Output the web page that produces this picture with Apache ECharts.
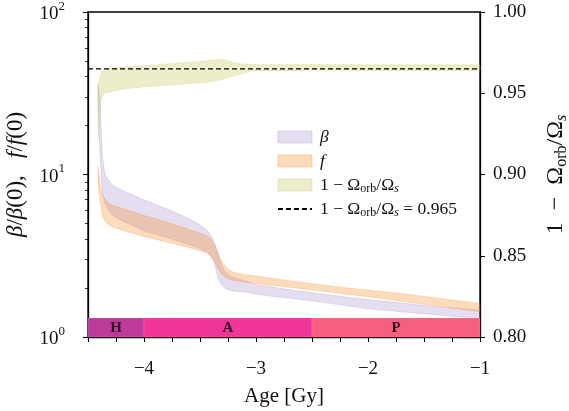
<!DOCTYPE html>
<html>
<head>
<meta charset="utf-8">
<script src="https://cdn.jsdelivr.net/npm/echarts@6/dist/echarts.min.js"></script>
<style>
  html, body { margin: 0; padding: 0; background: #fff; }
  #chart { width: 569px; height: 411px; }
</style>
</head>
<body>
<div id="chart"></div>
<script>
// age grid shared by the beta and f bands [Gy]
var bandAge = [-4.41, -4.40, -4.39, -4.38, -4.37, -4.35, -4.32, -4.28, -4.2, -4.1, -4.0, -3.9, -3.8, -3.7, -3.6, -3.5,
  -3.44, -3.40, -3.37, -3.34, -3.31, -3.28, -3.24, -3.2, -3.1, -3.0, -2.8, -2.5, -2.2, -2.0, -1.7, -1.4, -1.0];
// beta / beta(0)
var betaHigh = [36, 32, 26, 17, 12.5, 10.2, 9.3, 8.6, 8.0, 7.5, 7.0, 6.55, 6.15, 5.75, 5.35, 4.9,
  4.55, 4.2, 3.8, 3.25, 2.8, 2.55, 2.4, 2.33, 2.22, 2.1, 2.0, 1.87, 1.76, 1.70, 1.62, 1.54, 1.46];
var betaLow = [30, 17, 12, 9.5, 7.6, 6.7, 6.1, 5.6, 5.2, 4.85, 4.5, 4.3, 4.1, 3.9, 3.7, 3.5,
  3.35, 3.15, 2.85, 2.3, 2.1, 2.0, 1.95, 1.92, 1.89, 1.83, 1.76, 1.67, 1.56, 1.49, 1.43, 1.37, 1.30];
// f / f(0)
var fHigh = [11.2, 10.0, 8.6, 8.0, 7.5, 7.1, 6.7, 6.45, 6.2, 5.9, 5.6, 5.35, 5.1, 4.85, 4.6, 4.35,
  4.2, 4.0, 3.7, 3.3, 2.95, 2.75, 2.6, 2.5, 2.42, 2.37, 2.27, 2.13, 2.01, 1.94, 1.85, 1.74, 1.61];
var fLow = [8.5, 7.6, 6.7, 6.1, 5.6, 5.2, 4.95, 4.75, 4.55, 4.35, 4.15, 4.0, 3.85, 3.7, 3.55, 3.4,
  3.3, 3.1, 2.9, 2.65, 2.45, 2.35, 2.27, 2.23, 2.19, 2.13, 2.06, 1.95, 1.84, 1.77, 1.66, 1.56, 1.43];

// 1 - Omega_orb / Omega_s (right axis)
var omegaAge = [-4.41, -4.40, -4.39, -4.38, -4.36, -4.33, -4.3, -4.2, -4.0, -3.8, -3.6, -3.45, -3.38, -3.33,
  -3.28, -3.23, -3.18, -3.13, -3.08, -3.03, -3.0, -2.5, -2.0, -1.5, -1.0];
var omegaHigh = [0.955, 0.958, 0.961, 0.963, 0.9645, 0.965, 0.9655, 0.966, 0.967, 0.968, 0.969, 0.970, 0.9705, 0.971,
  0.9705, 0.9695, 0.9685, 0.968, 0.9678, 0.9677, 0.9676, 0.9676, 0.9675, 0.9675, 0.9675];
var omegaLow = [0.922, 0.935, 0.943, 0.947, 0.9495, 0.9505, 0.951, 0.9525, 0.954, 0.955, 0.956, 0.9567, 0.9575, 0.958,
  0.959, 0.960, 0.961, 0.962, 0.963, 0.9638, 0.964, 0.9641, 0.9641, 0.9641, 0.9641];
var omegaRef = 0.965;

// phases along the bottom
var phaseNames = ['H', 'A', 'P'];
var phaseStart = [-4.5, -4.0, -2.5];
var phaseEnd = [-4.0, -2.5, -1.0];
var phaseColors = ['#bd3a9b', '#f0359a', '#f65f80'];
var phaseTop = 1.31;

// log minor ticks on the left axis
var logMinorTicks = [2, 3, 4, 5, 6, 7, 8, 9, 20, 30, 40, 50, 60, 70, 80, 90];

var xMin = -4.5, xMax = -1;
var FONT = '"Liberation Serif", "DejaVu Serif", serif';

var betaFill = 'rgba(151,119,195,0.25)';
var fFill = 'rgba(248,135,38,0.3)';
var omegaFill = 'rgba(195,195,85,0.3)';

function rows(ages, lo, hi) {
  var out = [];
  for (var i = 0; i < ages.length; i++) out.push([ages[i], lo[i], hi[i]]);
  return out;
}

// fill_between style polygon drawn once from the whole data list
function bandSeries(name, ages, lo, hi, color, yAxisIndex, z) {
  return {
    type: 'custom',
    name: name,
    yAxisIndex: yAxisIndex,
    z: z,
    data: rows(ages, lo, hi),
    encode: { x: 0, y: [1, 2] },
    itemStyle: { color: color },
    renderItem: function (params, api) {
      if (params.dataIndex !== 0) return null;
      var pts = [];
      for (var i = 0; i < ages.length; i++) pts.push(api.coord([ages[i], hi[i]]));
      for (var j = ages.length - 1; j >= 0; j--) pts.push(api.coord([ages[j], lo[j]]));
      return {
        type: 'polygon',
        shape: { points: pts },
        style: { fill: color, stroke: color, lineWidth: 0.8 }
      };
    }
  };
}

var phaseData = [];
for (var k = 0; k < phaseNames.length; k++) phaseData.push([phaseStart[k], phaseEnd[k], k]);

var richText = {
  it: { fontFamily: FONT, fontStyle: 'italic' },
  sub: { fontFamily: FONT, fontSize: 12, verticalAlign: 'bottom' },
  subi: { fontFamily: FONT, fontSize: 12, fontStyle: 'italic', verticalAlign: 'bottom' }
};
var richTitle = {
  it: { fontFamily: FONT, fontStyle: 'italic', fontSize: 23 },
  sub: { fontFamily: FONT, fontSize: 16, verticalAlign: 'bottom', lineHeight: 28 },
  subi: { fontFamily: FONT, fontSize: 16, fontStyle: 'italic', verticalAlign: 'bottom', lineHeight: 28 }
};

var legendText = {
  'beta': '{it|β}',
  'f': '{it|f}',
  'omega': '1 − Ω{sub|orb}/Ω{subi|s}',
  'omegaRef': '1 − Ω{sub|orb}/Ω{subi|s} = 0.965'
};

var myChart = echarts.init(document.getElementById('chart'));

var option = {
  animation: false,
  backgroundColor: '#fff',
  grid: {
    left: 88, right: 89, top: 12, bottom: 74,
    outerBoundsMode: 'none',
    containLabel: false,
    show: true, borderColor: '#000', borderWidth: 1.3, backgroundColor: 'transparent'
  },
  legend: {
    orient: 'vertical',
    left: 272,
    top: 122,
    itemWidth: 34,
    itemHeight: 12,
    itemGap: 4,
    formatter: function (name) { return legendText[name]; },
    textStyle: { fontFamily: FONT, fontSize: 17.5, color: '#111', lineHeight: 20, padding: [0, 0, 0, 3], rich: richText },
    data: [
      { name: 'beta', icon: 'rect', itemStyle: { color: betaFill, borderColor: betaFill, borderWidth: 1 } },
      { name: 'f', icon: 'rect', itemStyle: { color: fFill, borderColor: fFill, borderWidth: 1 } },
      { name: 'omega', icon: 'rect', itemStyle: { color: omegaFill, borderColor: omegaFill, borderWidth: 1 } },
      { name: 'omegaRef', itemStyle: { color: 'rgba(0,0,0,0)', borderWidth: 0, opacity: 0 } }
    ]
  },
  xAxis: {
    type: 'value',
    min: xMin,
    max: xMax,
    interval: 0.25,
    name: 'Age [Gy]',
    nameLocation: 'middle',
    nameGap: 49,
    nameTextStyle: { fontFamily: FONT, fontSize: 21, color: '#111' },
    axisLine: { lineStyle: { color: '#000', width: 1.3 } },
    axisTick: { length: 5, lineStyle: { color: '#000', width: 1 } },
    axisLabel: {
      margin: 23,
      fontFamily: FONT, fontSize: 19, color: '#111',
      formatter: function (v) {
        if (Math.abs(v - Math.round(v)) > 1e-9) return '';
        return '−' + Math.abs(Math.round(v));
      }
    },
    splitLine: { show: false }
  },
  yAxis: [
    {
      type: 'log',
      logBase: 10,
      min: 1,
      max: 100,
      position: 'left',
      name: '{it|β}/{it|β}(0),   {it|f}/{it|f}(0)',
      nameLocation: 'middle',
      nameRotate: 90,
      nameGap: 61,
      nameTextStyle: { fontFamily: FONT, fontSize: 23, color: '#111', rich: richTitle },
      axisLine: { show: true, lineStyle: { color: '#000', width: 1.3 } },
      axisTick: { show: true, length: 5, lineStyle: { color: '#000', width: 1 } },
      axisLabel: {
        margin: 23,
        formatter: function (v) { return '{b|10}{sup|' + Math.round(Math.log10(v)) + '}'; },
        rich: {
          b: { fontFamily: FONT, fontSize: 19, color: '#111', lineHeight: 24, verticalAlign: 'bottom' },
          sup: { fontFamily: FONT, fontSize: 13, color: '#111', lineHeight: 24, verticalAlign: 'top' }
        }
      },
      splitLine: { show: false }
    },
    {
      type: 'value',
      min: 0.8,
      max: 1.0,
      interval: 0.05,
      position: 'right',
      name: '1  −  Ω{sub|orb}/Ω{subi|s}',
      nameLocation: 'middle',
      nameRotate: 90,
      nameGap: 62,
      nameTextStyle: { fontFamily: FONT, fontSize: 24, color: '#111', lineHeight: 28, rich: richTitle },
      axisLine: { show: true, lineStyle: { color: '#000', width: 1.3 } },
      axisTick: { show: true, length: 5, lineStyle: { color: '#000', width: 1 } },
      axisLabel: {
        margin: 13,
        fontFamily: FONT, fontSize: 19, color: '#111',
        formatter: function (v) { return v.toFixed(2); }
      },
      splitLine: { show: false }
    },
    {
      // minor ticks only
      type: 'log',
      logBase: 10,
      min: 1,
      max: 100,
      position: 'left',
      axisLine: { show: false },
      axisLabel: { show: false },
      axisTick: { show: true, length: 3, customValues: logMinorTicks, lineStyle: { color: '#000', width: 0.8 } },
      splitLine: { show: false }
    }
  ],
  series: [
    bandSeries('beta', bandAge, betaLow, betaHigh, betaFill, 0, 2),
    bandSeries('f', bandAge, fLow, fHigh, fFill, 0, 3),
    bandSeries('omega', omegaAge, omegaLow, omegaHigh, omegaFill, 1, 4),
    {
      type: 'custom',
      name: 'phases',
      yAxisIndex: 0,
      z: 5,
      data: phaseData,
      encode: { x: [0, 1] },
      renderItem: function (params, api) {
        var p0 = api.coord([api.value(0), 1]);
        var p1 = api.coord([api.value(1), phaseTop]);
        var idx = api.value(2);
        return {
          type: 'group',
          children: [
            {
              type: 'rect',
              shape: { x: p0[0], y: p1[1], width: p1[0] - p0[0], height: p0[1] - p1[1] },
              style: { fill: phaseColors[idx], stroke: 'rgba(255,255,255,0.25)', lineWidth: 0.6 }
            },
            {
              type: 'text',
              style: {
                x: (p0[0] + p1[0]) / 2,
                y: (p0[1] + p1[1]) / 2 + 1,
                text: phaseNames[idx],
                font: 'bold 15px ' + FONT,
                fill: '#2a1424',
                align: 'center',
                verticalAlign: 'middle'
              }
            }
          ]
        };
      }
    },
    {
      type: 'line',
      name: 'omegaRef',
      yAxisIndex: 1,
      z: 6,
      symbol: 'none',
      data: [[xMin, omegaRef], [xMax, omegaRef]],
      lineStyle: { color: '#000', width: 1.3, type: [5, 3] },
      itemStyle: { color: '#000' }
    }
  ]
};

myChart.setOption(option);
</script>
</body>
</html>
